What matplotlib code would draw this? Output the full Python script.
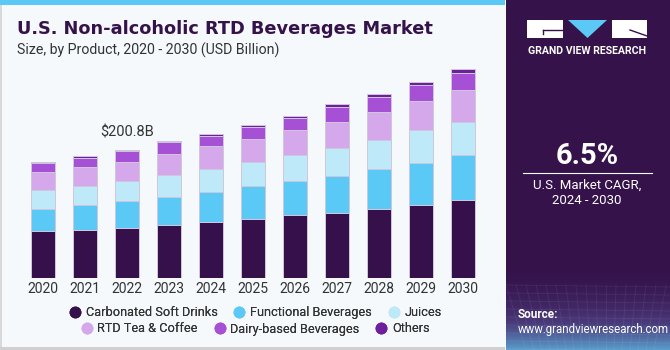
import matplotlib.pyplot as plt
import numpy as np
from matplotlib.patches import Rectangle, Polygon
from matplotlib.lines import Line2D

plt.rcParams["font.family"] = ["Roboto", "DejaVu Sans"]

years = ["2020", "2021", "2022", "2023", "2024", "2025", "2026", "2027", "2028", "2029", "2030"]
segments = ["Carbonated Soft Drinks", "Functional Beverages", "Juices",
            "RTD Tea & Coffee", "Dairy-based Beverages", "Others"]
carbonated = [73.7, 75.3, 78.9, 82.7, 88.3, 92.6, 98.8, 102.5, 107.8, 114.1, 121.9]
functional = [35.0, 39.7, 42.4, 44.4, 46.6, 51.8, 53.8, 57.6, 63.7, 66.8, 71.5]
juices = [29.8, 29.8, 30.9, 34.5, 36.6, 37.7, 39.9, 44.4, 44.6, 50.8, 51.3]
rtd_tea = [27.3, 29.3, 30.3, 33.4, 35.1, 36.1, 39.2, 40.3, 43.9, 46.0, 50.2]
dairy = [14.6, 14.6, 16.3, 18.4, 16.6, 18.8, 18.8, 23.1, 23.5, 25.1, 27.1]
others = [1.6, 2.2, 2.0, 1.6, 2.7, 3.1, 4.1, 4.7, 4.7, 4.2, 5.3]
series = [carbonated, functional, juices, rtd_tea, dairy, others]
colors = ["#36104a", "#5bc9f5", "#bde9f8", "#d5a8ec", "#a650d6", "#6e1f9b"]
label_year = 2  # index of 2022
label_text = "$200.8B"

W, H = 670, 350
fig = plt.figure(figsize=(6.7, 3.5), dpi=100)
fig.patch.set_facecolor("#f5f9fc")


def fx(x):
    return x / W


def fy(y):
    return 1 - y / H


# background decorations
bg = fig.add_axes([0, 0, 1, 1], zorder=-5)
bg.set_xlim(0, W)
bg.set_ylim(H, 0)
bg.axis("off")
bg.add_patch(Rectangle((0, 0), 505, 5, color="#5bc8f5", lw=0))
bg.add_patch(Rectangle((0, 5), 2, 345, color="#d9d9d9", lw=0))
bg.add_patch(Rectangle((0, 347), 505, 3, color="#d0d0d0", lw=0))

# right panel
bg.add_patch(Rectangle((506, 0), 164, 350, color="#35124a", lw=0))
grad = np.linspace(0, 1, 80)[:, None] ** 1.8
cmap = plt.matplotlib.colors.LinearSegmentedColormap.from_list(
    "g", ["#35124a", "#4a3a7a", "#5a9ccc"])
bg.imshow(grad, extent=(506, 670, 350, 265), cmap=cmap, aspect="auto", zorder=1)
for k in range(0, 170, 10):
    bg.plot([506 + k, 506 + k * 0.8 + 20], [285, 350], color="white", alpha=0.07, lw=0.6, zorder=2)
for k in range(285, 350, 8):
    bg.plot([506, 670], [k, k + 2], color="white", alpha=0.07, lw=0.6, zorder=2)

# logo
bg.add_patch(Rectangle((527, 20), 36, 18, color="white", lw=0, zorder=3))
bg.add_patch(Polygon([(568, 20), (607, 20), (587.5, 38)], color="#5bc8f5", lw=0, zorder=3))
bg.add_patch(Rectangle((612, 20), 35, 18, color="white", lw=0, zorder=3))
bg.plot([543, 563], [30, 30], color="#35124a", lw=1, zorder=4)
bg.plot([543, 543], [30, 34], color="#35124a", lw=1, zorder=4)
bg.plot([630, 647], [30, 36], color="#35124a", lw=1, zorder=4)
fig.text(fx(587), fy(50.7), "GRAND VIEW RESEARCH", color="white", fontsize=7.6,
         fontweight="bold", ha="center", va="center")

fig.text(fx(587), fy(156), "6.5%", color="white", fontsize=21, fontweight="bold",
         ha="center", va="center")
bg.plot([523, 652], [173.3, 173.3], color="white", lw=0.8, zorder=3)
fig.text(fx(587), fy(185), "U.S. Market CAGR,", color="white", fontsize=9.5,
         ha="center", va="center")
fig.text(fx(587), fy(201), "2024 - 2030", color="white", fontsize=9.5,
         ha="center", va="center")
fig.text(fx(518), fy(315), "Source:", color="white", fontsize=8.5, fontweight="bold",
         ha="left", va="center")
fig.text(fx(518), fy(329), "www.grandviewresearch.com", color="white", fontsize=8.3,
         ha="left", va="center")

# titles
fig.text(fx(17), fy(29), "U.S. Non-alcoholic RTD Beverages Market", color="#35124a",
         fontsize=12.8, fontweight="bold", ha="left", va="center", family="DejaVu Sans")
fig.text(fx(17), fy(50), "Size, by Product, 2020 - 2030 (USD Billion)", color="#333333",
         fontsize=10.2, ha="left", va="center")

# chart
px0, pstep = 43, 41.97
ax = fig.add_axes([0, fy(278), fx(500), (278 - 60) / H])
ax.set_facecolor("none")
x = np.arange(len(years))
bottom = np.zeros(len(years))
for name, vals, c in zip(segments, series, colors):
    ax.bar(x, vals, 0.58, bottom=bottom, color=c, edgecolor="#cfc6dc", linewidth=0.7, label=name)
    bottom += np.array(vals)
ax.set_xlim(-px0 / pstep, (500 - px0) / pstep)
ax.set_ylim(0, 218 * 1.569)
ax.set_xticks(x)
ax.set_xticklabels(years, fontsize=10, color="#333333")
ax.tick_params(axis="x", length=0, pad=3)
ax.set_yticks([])
for s in ax.spines.values():
    s.set_visible(False)
ax.text(x[label_year], bottom[label_year] + 18 * 1.569, label_text, ha="center",
        va="center", fontsize=10.5, color="#333333")

# legend
def handles(idx):
    return [Line2D([], [], marker="o", ls="", markersize=7.5, markerfacecolor=colors[i],
                   markeredgecolor=colors[i], label=segments[i]) for i in idx]

for idx, yy in [([0, 1, 2], 312.7), ([3, 4, 5], 329)]:
    lg = fig.legend(handles=handles(idx), loc="center", bbox_to_anchor=(fx(255), fy(yy)),
                    ncol=3, frameon=False, fontsize=9.2, handletextpad=0.35,
                    columnspacing=1.2, labelcolor="#333333", handlelength=1.0,
                    borderpad=0, borderaxespad=0)
    fig.add_artist(lg)

fig.savefig("out.png", dpi=100, facecolor=fig.get_facecolor())
